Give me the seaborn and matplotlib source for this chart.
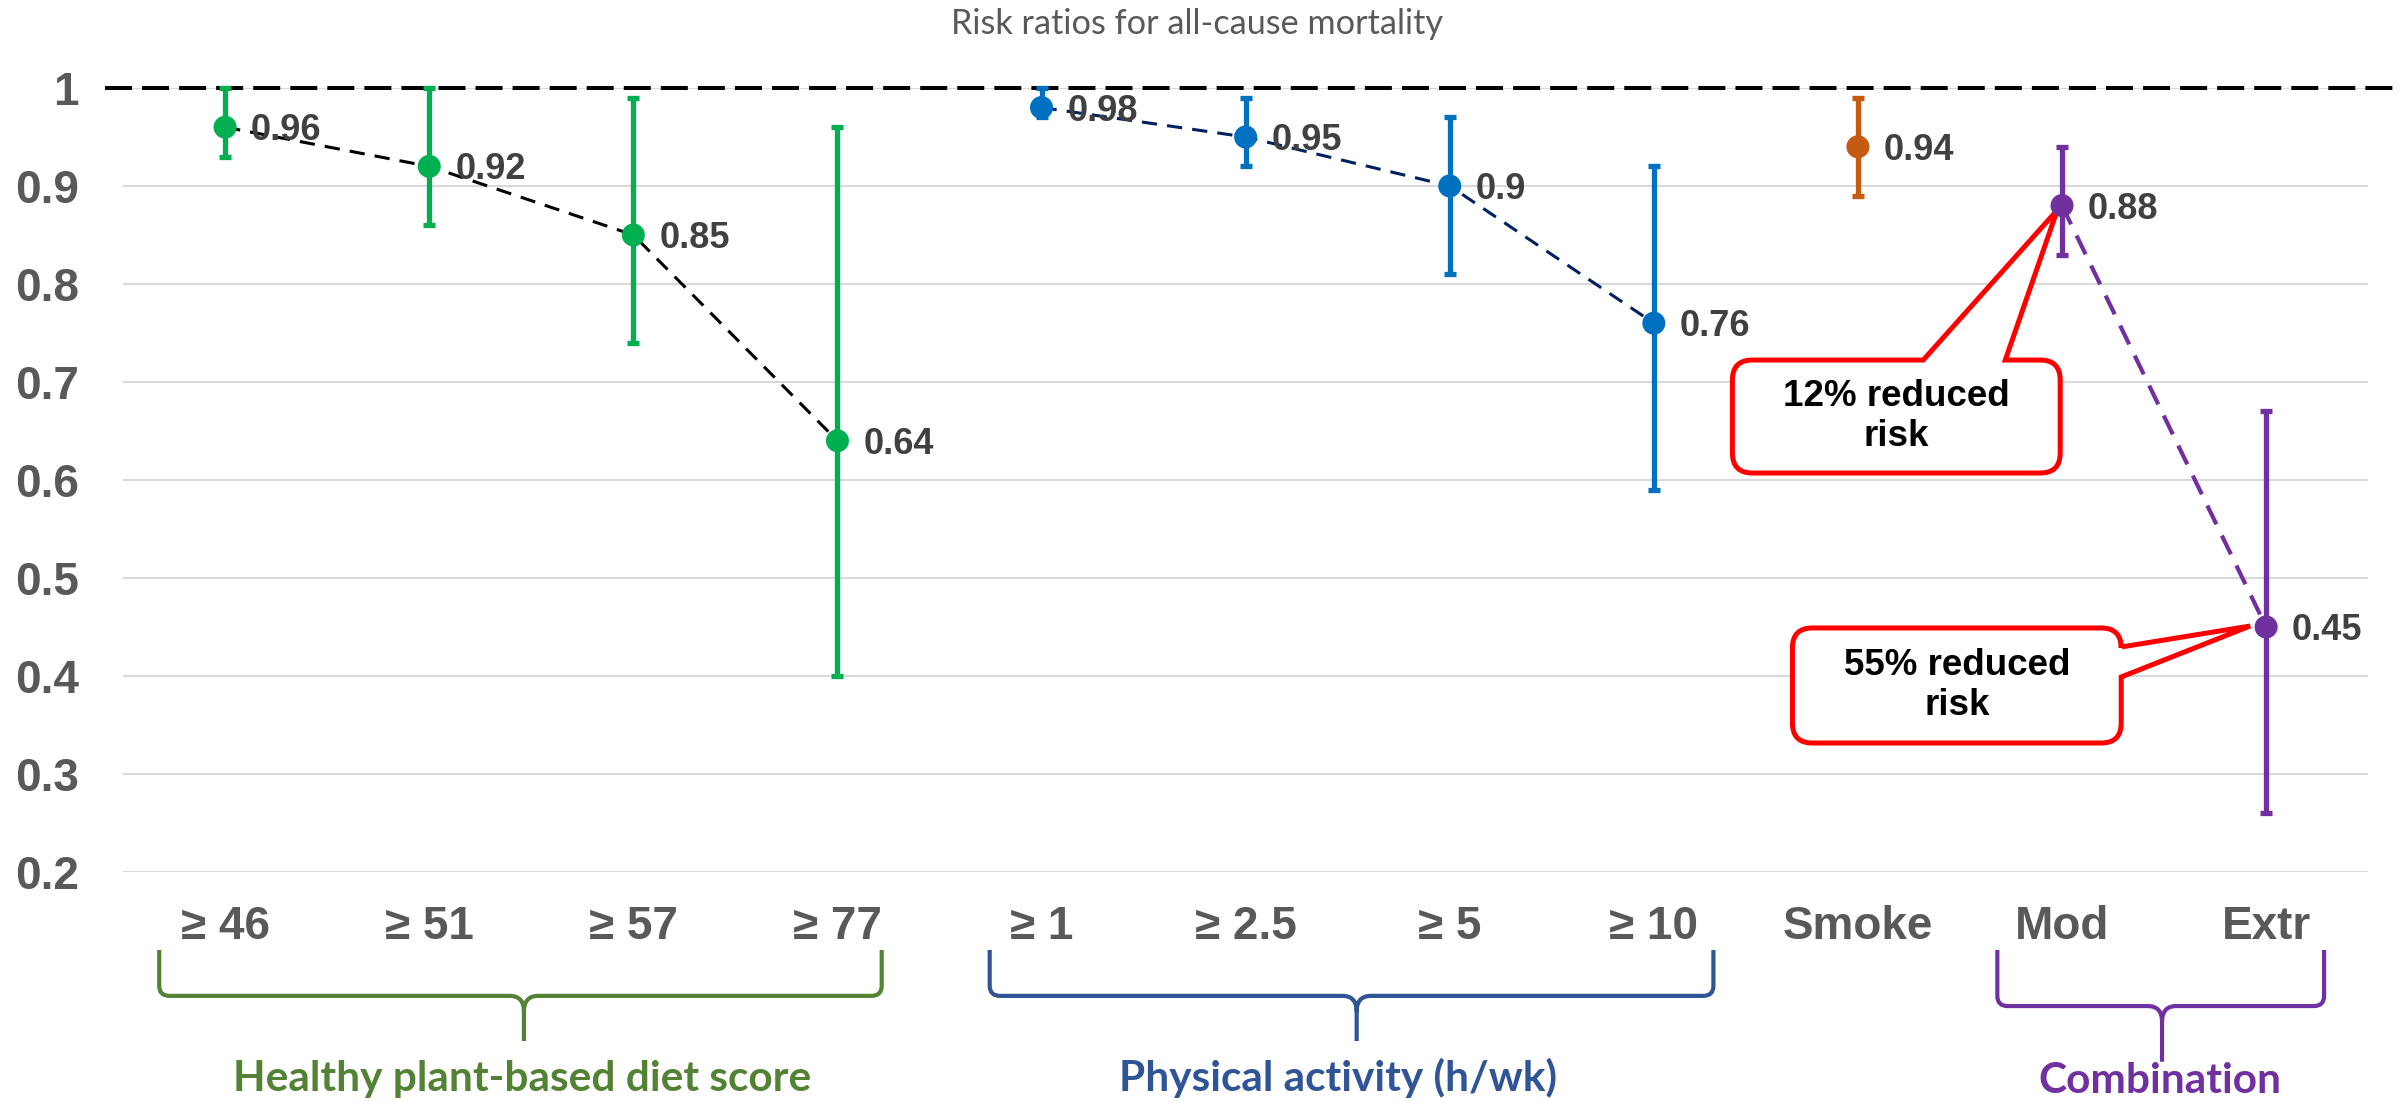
import numpy as np
import pandas as pd
import matplotlib
matplotlib.use("Agg")
import matplotlib.pyplot as plt
import seaborn as sns
from matplotlib.path import Path
from matplotlib.patches import PathPatch

# ---- data ----
categories = ['≥ 46', '≥ 51', '≥ 57', '≥ 77', '≥ 1', '≥ 2.5', '≥ 5', '≥ 10', 'Smoke', 'Mod', 'Extr']
groups = ['diet'] * 4 + ['activity'] * 4 + ['smoke'] + ['combo'] * 2
risk_ratio = [0.96, 0.92, 0.85, 0.64, 0.98, 0.95, 0.90, 0.76, 0.94, 0.88, 0.45]
ci_low = [0.93, 0.86, 0.74, 0.40, 0.97, 0.92, 0.81, 0.59, 0.89, 0.83, 0.26]
ci_high = [1.00, 1.00, 0.99, 0.96, 1.00, 0.99, 0.97, 0.92, 0.99, 0.94, 0.67]
y_ticks = [0.2, 0.3, 0.4, 0.5, 0.6, 0.7, 0.8, 0.9, 1.0]
y_tick_labels = ['0.2', '0.3', '0.4', '0.5', '0.6', '0.7', '0.8', '0.9', '1']
group_titles = ['Healthy plant-based diet score', 'Physical activity (h/wk)', 'Combination']
callout_texts = ['12% reduced\nrisk', '55% reduced\nrisk']

marker_colors = {'diet': '#00B050', 'activity': '#0070C0', 'smoke': '#C55A11', 'combo': '#7030A0'}
line_colors = {'diet': '#000000', 'activity': '#002060', 'combo': '#7030A0'}
title_colors = ['#548235', '#2F5597', '#7030A0']

df = pd.DataFrame({'pos': np.arange(len(categories)), 'rr': risk_ratio,
                   'lo': ci_low, 'hi': ci_high, 'group': groups})

sns.set_theme(style="white")
plt.rcParams['font.family'] = ['Liberation Sans', 'DejaVu Sans']

fig = plt.figure(figsize=(24.04, 11.01), dpi=100)
ax = fig.add_axes([0.0512, 0.208, 0.9339, 0.7121])

# gridlines + reference line at 1
ax.set_ylim(0.2, 1.0)
ax.set_xlim(-0.5, 10.5)
ax.set_yticks(y_ticks)
ax.set_yticklabels(y_tick_labels, fontweight='bold')
ax.yaxis.grid(True, color='#D9D9D9', lw=1.5)
ax.set_axisbelow(True)
ax.plot([-0.59, 10.63], [1, 1], color='black', lw=2.9, linestyle=(0, (6.7, 2.5)),
        clip_on=False, zorder=3)

# dashed trend lines inside each group
line_styles = {'diet': (2.2, (5, 3.3)), 'activity': (2.2, (5, 3.3)), 'combo': (3.0, (5, 3))}
for g, col in line_colors.items():
    sub = df[df['group'] == g]
    lw, dash = line_styles[g]
    sns.lineplot(data=sub, x='pos', y='rr', color=col, lw=lw, linestyle=(0, dash),
                 legend=False, ax=ax, zorder=4)

# confidence intervals
for _, row in df.iterrows():
    eb = ax.errorbar(row['pos'], row['rr'], yerr=[[row['rr'] - row['lo']], [row['hi'] - row['rr']]],
                     fmt='none', ecolor=marker_colors[row['group']], elinewidth=3.8,
                     capsize=4.5, capthick=3.8, zorder=5)
    for part in eb.lines:
        items = part if isinstance(part, tuple) else (part,)
        for a in items:
            if a is not None:
                a.set_clip_on(False)

sns.scatterplot(data=df, x='pos', y='rr', hue='group', palette=marker_colors, s=275,
                edgecolor='none', legend=False, ax=ax, zorder=6, clip_on=False)

for _, row in df.iterrows():
    ax.annotate(f"{row['rr']:g}", (row['pos'], row['rr']), xytext=(18.7, -9.4),
                textcoords='offset points', fontsize=26, fontweight='bold',
                color='#404040', va='baseline', ha='left', zorder=7)

ax.set_xticks(df['pos'])
ax.set_xticklabels(categories, fontweight='bold')
ax.tick_params(axis='x', length=0, pad=24, labelsize=33, labelcolor='#595959')
ax.tick_params(axis='y', length=0, pad=32, labelsize=33, labelcolor='#595959')
ax.set_xlabel('')
ax.set_ylabel('')
sns.despine(ax=ax, left=True, bottom=True)


# ---- callout boxes ----
def callout(ax, x0, x1, y0, y1, side, b1, b2, tip, rx=0.098, ry=0.0204):
    M, L, C = Path.MOVETO, Path.LINETO, Path.CURVE3
    v = [(x0 + rx, y0)]
    c = [M]
    v += [(x1 - rx, y0), (x1, y0), (x1, y0 + ry)]
    c += [L, C, C]
    if side == 'right':
        v += [(x1, b1), tip, (x1, b2)]
        c += [L, L, L]
    v += [(x1, y1 - ry), (x1, y1), (x1 - rx, y1)]
    c += [L, C, C]
    if side == 'top':
        v += [(b2, y1), tip, (b1, y1)]
        c += [L, L, L]
    v += [(x0 + rx, y1), (x0, y1), (x0, y1 - ry)]
    c += [L, C, C]
    v += [(x0, y0 + ry), (x0, y0), (x0 + rx, y0), (x0 + rx, y0)]
    c += [L, C, C, Path.CLOSEPOLY]
    patch = PathPatch(Path(v, c), facecolor='white', edgecolor='#FF0000', lw=3.6,
                      zorder=4.5, clip_on=False)
    ax.add_patch(patch)


callout(ax, 7.385, 8.991, 0.6071, 0.7224, 'top', 8.320, 8.722, (8.977, 0.8755))
callout(ax, 7.679, 9.290, 0.3316, 0.449, 'right', 0.399, 0.4296, (9.922, 0.451))
ax.text(8.188, 0.6648, callout_texts[0], ha='center', va='center', fontsize=26.5,
        fontweight='bold', color='black', zorder=4.6)
ax.text(8.4845, 0.3903, callout_texts[1], ha='center', va='center', fontsize=26.5,
        fontweight='bold', color='black', zorder=4.6)


# ---- group braces under the axis ----
def brace(ax, xl, xr, xc, ytop, yh, ybot, color, rx=0.05, ry=0.0128, r2x=0.07, r2y=0.02):
    M, L, C = Path.MOVETO, Path.LINETO, Path.CURVE3
    v = [(xl, ytop), (xl, yh + ry), (xl, yh), (xl + rx, yh),
         (xc - r2x, yh), (xc, yh), (xc, yh - r2y), (xc, ybot),
         (xc, yh - r2y), (xc, yh), (xc + r2x, yh),
         (xr - rx, yh), (xr, yh), (xr, yh + ry), (xr, ytop)]
    c = [M, L, C, C, L, C, C, L, M, C, C, L, C, C, L]
    ax.add_patch(PathPatch(Path(v, c), facecolor='none', edgecolor=color, lw=3,
                           transform=ax.get_xaxis_transform(), clip_on=False))


brace(ax, -0.323, 3.217, 1.464, -0.0995, -0.158, -0.2156, title_colors[0])
brace(ax, 3.746, 7.292, 5.544, -0.0995, -0.158, -0.2156, title_colors[1])
brace(ax, 8.683, 10.284, 9.49, -0.0995, -0.171, -0.242, title_colors[2])

label_x = [1.455, 5.455, 9.48]
label_y = [-0.279, -0.279, -0.282]
for x, y, t, col in zip(label_x, label_y, group_titles, title_colors):
    ax.text(x, y, t, transform=ax.get_xaxis_transform(), ha='center', va='baseline',
            fontsize=30.5, fontweight='bold', color=col, family=['Lato', 'DejaVu Sans'])

fig.text(0.4979, 0.9691, 'Risk ratios for all-cause mortality', ha='center', va='baseline',
         fontsize=24.7, color='#595959', family=['Lato', 'DejaVu Sans'])

fig.savefig('out.png', dpi=100)
